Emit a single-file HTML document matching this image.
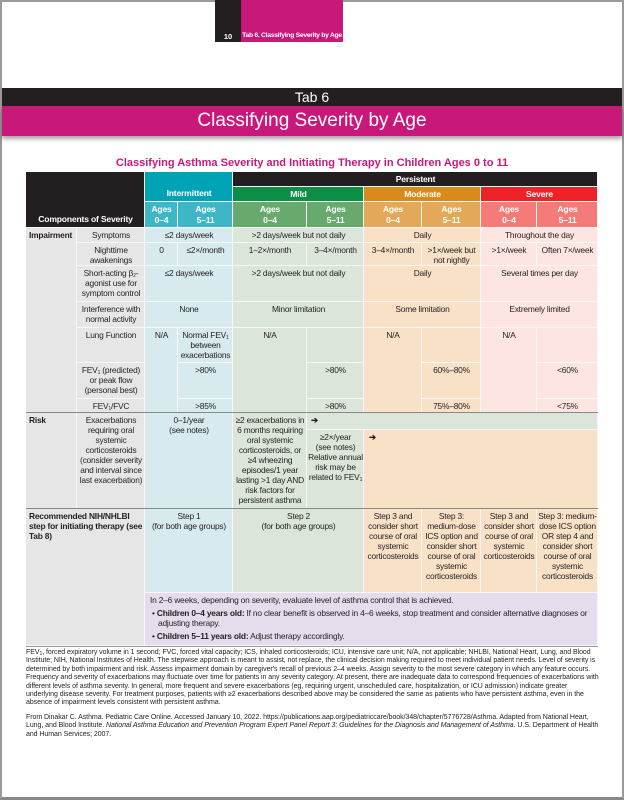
<!DOCTYPE html>
<html><head><meta charset="utf-8"><style>
*{margin:0;padding:0}
body{width:624px;height:800px;position:relative;background:#fff;overflow:hidden;font-family:"Liberation Sans Narrow","Liberation Sans",sans-serif;color:#231f20}
.a{position:absolute;box-sizing:border-box}
.c{position:absolute;box-sizing:border-box;text-align:center;font-size:8.4px;letter-spacing:-0.2px;line-height:10px;padding:2px 1px 0;box-shadow:inset -1px -1px 0 #f7f7f7}
.b{background:#d7eaee}.g{background:#dce5d9}.o{background:#f8e1c6}.p{background:#fde5e2}.gr{background:#e6e6e7}.pu{background:#e5ddec}
.h{color:#fff;font-weight:bold;font-size:8.6px;line-height:11px;padding-top:2px}
.fn{position:absolute;left:26px;width:574px;font-size:7px;letter-spacing:-0.05px;line-height:8.4px;color:#231f20}
sub{font-size:5px;vertical-align:-1px;line-height:0}
</style></head><body>
<div class="a" style="left:0;top:0;width:624px;height:800px;border:2px solid #9a9a9a;border-bottom:3px solid #888"></div>
<div class="a" style="left:215px;top:0;width:26px;height:42px;background:#231f20;color:#fff;font:bold 7.5px 'Liberation Sans',sans-serif;text-align:center;padding-top:32px">10</div>
<div class="a" style="left:241px;top:0;width:102px;height:42px;background:#c8197a;color:#fff;font:bold 6.8px 'Liberation Sans',sans-serif;letter-spacing:-0.3px;white-space:nowrap;text-align:center;padding-top:32px">Tab 6. Classifying Severity by Age</div>
<div class="a" style="left:2px;top:88px;width:620px;height:18px;background:#231f20;color:#fff;font:14px 'Liberation Sans',sans-serif;text-align:center;line-height:18px">Tab 6</div>
<div class="a" style="left:2px;top:106px;width:620px;height:30px;background:#c8197a;color:#fff;font:19px 'Liberation Sans',sans-serif;text-align:center;line-height:30px;box-shadow:0 3px 4px rgba(0,0,0,.35)">Classifying Severity by Age</div>
<div class="a" style="left:0;top:157px;width:624px;text-align:center;color:#c8197a;font:bold 11px 'Liberation Sans',sans-serif">Classifying Asthma Severity and Initiating Therapy in Children Ages 0 to 11</div>

<!-- header -->
<div class="c h" style="left:26px;top:172px;width:119px;height:56px;background:#231f20;padding-top:42px">Components of Severity</div>
<div class="c h" style="left:233px;top:172px;width:365px;height:15px;background:#231f20">Persistent</div>
<div class="c h" style="left:145px;top:172px;width:88px;height:30px;background:#00a3b4;padding-top:16px">Intermittent</div>
<div class="c h" style="left:233px;top:187px;width:131px;height:15px;background:#0b8f46">Mild</div>
<div class="c h" style="left:364px;top:187px;width:117px;height:15px;background:#d88b1a">Moderate</div>
<div class="c h" style="left:481px;top:187px;width:117px;height:15px;background:#ed2227">Severe</div>
<div class="c h" style="left:145px;top:202px;width:33px;height:26px;background:#3db6c6">Ages<br>0–4</div>
<div class="c h" style="left:178px;top:202px;width:55px;height:26px;background:#3db6c6">Ages<br>5–11</div>
<div class="c h" style="left:233px;top:202px;width:74px;height:26px;background:#68a96d">Ages<br>0–4</div>
<div class="c h" style="left:307px;top:202px;width:57px;height:26px;background:#68a96d">Ages<br>5–11</div>
<div class="c h" style="left:364px;top:202px;width:58px;height:26px;background:#e3a858">Ages<br>0–4</div>
<div class="c h" style="left:422px;top:202px;width:59px;height:26px;background:#e3a858">Ages<br>5–11</div>
<div class="c h" style="left:481px;top:202px;width:56px;height:26px;background:#f47b78">Ages<br>0–4</div>
<div class="c h" style="left:537px;top:202px;width:61px;height:26px;background:#f47b78">Ages<br>5–11</div>

<!-- impairment -->
<div class="c gr" style="left:26px;top:228px;width:51px;height:185px;text-align:left;font-weight:bold;padding-left:3px">Impairment</div>
<div class="c gr" style="left:77px;top:228px;width:68px;height:15px">Symptoms</div>
<div class="c b" style="left:145px;top:228px;width:88px;height:15px">≤2 days/week</div>
<div class="c g" style="left:233px;top:228px;width:131px;height:15px">&gt;2 days/week but not daily</div>
<div class="c o" style="left:364px;top:228px;width:117px;height:15px">Daily</div>
<div class="c p" style="left:481px;top:228px;width:117px;height:15px">Throughout the day</div>

<div class="c gr" style="left:77px;top:243px;width:68px;height:23px">Nighttime<br>awakenings</div>
<div class="c b" style="left:145px;top:243px;width:33px;height:23px">0</div>
<div class="c b" style="left:178px;top:243px;width:55px;height:23px">≤2×/month</div>
<div class="c g" style="left:233px;top:243px;width:74px;height:23px">1–2×/month</div>
<div class="c g" style="left:307px;top:243px;width:57px;height:23px">3–4×/month</div>
<div class="c o" style="left:364px;top:243px;width:58px;height:23px">3–4×/month</div>
<div class="c o" style="left:422px;top:243px;width:59px;height:23px">&gt;1×/week but not nightly</div>
<div class="c p" style="left:481px;top:243px;width:56px;height:23px">&gt;1×/week</div>
<div class="c p" style="left:537px;top:243px;width:61px;height:23px">Often 7×/week</div>

<div class="c gr" style="left:77px;top:266px;width:68px;height:36px">Short-acting β<sub>2</sub>-agonist use for symptom control</div>
<div class="c b" style="left:145px;top:266px;width:88px;height:36px">≤2 days/week</div>
<div class="c g" style="left:233px;top:266px;width:131px;height:36px">&gt;2 days/week but not daily</div>
<div class="c o" style="left:364px;top:266px;width:117px;height:36px">Daily</div>
<div class="c p" style="left:481px;top:266px;width:117px;height:36px">Several times per day</div>

<div class="c gr" style="left:77px;top:302px;width:68px;height:26px">Interference with normal activity</div>
<div class="c b" style="left:145px;top:302px;width:88px;height:26px">None</div>
<div class="c g" style="left:233px;top:302px;width:131px;height:26px">Minor limitation</div>
<div class="c o" style="left:364px;top:302px;width:117px;height:26px">Some limitation</div>
<div class="c p" style="left:481px;top:302px;width:117px;height:26px">Extremely limited</div>

<div class="c gr" style="left:77px;top:328px;width:68px;height:35px">Lung Function</div>
<div class="c gr" style="left:77px;top:363px;width:68px;height:36px">FEV<sub>1</sub> (predicted) or peak flow (personal best)</div>
<div class="c gr" style="left:77px;top:399px;width:68px;height:14px">FEV<sub>1</sub>/FVC</div>
<div class="c b" style="left:145px;top:328px;width:33px;height:85px">N/A</div>
<div class="c b" style="left:178px;top:328px;width:55px;height:35px">Normal FEV<sub>1</sub> between exacerbations</div>
<div class="c b" style="left:178px;top:363px;width:55px;height:36px">&gt;80%</div>
<div class="c b" style="left:178px;top:399px;width:55px;height:14px">&gt;85%</div>
<div class="c g" style="left:233px;top:328px;width:74px;height:85px">N/A</div>
<div class="c g" style="left:307px;top:328px;width:57px;height:35px"></div>
<div class="c g" style="left:307px;top:363px;width:57px;height:36px">&gt;80%</div>
<div class="c g" style="left:307px;top:399px;width:57px;height:14px">&gt;80%</div>
<div class="c o" style="left:364px;top:328px;width:58px;height:85px">N/A</div>
<div class="c o" style="left:422px;top:328px;width:59px;height:35px"></div>
<div class="c o" style="left:422px;top:363px;width:59px;height:36px">60%–80%</div>
<div class="c o" style="left:422px;top:399px;width:59px;height:14px">75%–80%</div>
<div class="c p" style="left:481px;top:328px;width:56px;height:85px">N/A</div>
<div class="c p" style="left:537px;top:328px;width:61px;height:35px"></div>
<div class="c p" style="left:537px;top:363px;width:61px;height:36px">&lt;60%</div>
<div class="c p" style="left:537px;top:399px;width:61px;height:14px">&lt;75%</div>

<!-- risk -->
<div class="a" style="left:26px;top:412px;width:572px;height:1px;background:#888"></div>
<div class="c gr" style="left:26px;top:413px;width:51px;height:96px;text-align:left;font-weight:bold;padding-left:3px">Risk</div>
<div class="c gr" style="left:77px;top:413px;width:68px;height:96px">Exacerbations requiring oral systemic corticosteroids (consider severity and interval since last exacerbation)</div>
<div class="c b" style="left:145px;top:413px;width:88px;height:96px">0–1/year<br>(see notes)</div>
<div class="c g" style="left:233px;top:413px;width:74px;height:96px">≥2 exacerbations in 6 months requiring oral systemic corticosteroids, or ≥4 wheezing episodes/1 year lasting &gt;1 day AND risk factors for persistent asthma</div>
<div class="c g" style="left:307px;top:413px;width:291px;height:17px;text-align:left;padding-left:4px;font-weight:bold">➔</div>
<div class="c g" style="left:307px;top:430px;width:57px;height:79px">≥2×/year<br>(see notes)<br>Relative annual risk may be related to FEV<sub>1</sub></div>
<div class="c o" style="left:364px;top:430px;width:234px;height:79px;text-align:left;padding-left:5px;font-weight:bold">➔</div>

<!-- recommended -->
<div class="a" style="left:26px;top:508px;width:572px;height:1px;background:#888"></div>
<div class="c gr" style="left:26px;top:509px;width:119px;height:137px;text-align:left;font-weight:bold;padding-left:3px">Recommended NIH/NHLBI step for initiating therapy (see Tab 8)</div>
<div class="c b" style="left:145px;top:509px;width:88px;height:84px">Step 1<br>(for both age groups)</div>
<div class="c g" style="left:233px;top:509px;width:131px;height:84px">Step 2<br>(for both age groups)</div>
<div class="c o" style="left:364px;top:509px;width:58px;height:84px">Step 3 and consider short course of oral systemic corticosteroids</div>
<div class="c o" style="left:422px;top:509px;width:59px;height:84px">Step 3: medium-dose ICS option and consider short course of oral systemic corticosteroids</div>
<div class="c o" style="left:481px;top:509px;width:56px;height:84px">Step 3 and consider short course of oral systemic corticosteroids</div>
<div class="c o" style="left:537px;top:509px;width:61px;height:84px">Step 3: medium-dose ICS option OR step 4 and consider short course of oral systemic corticosteroids</div>
<div class="c pu" style="left:145px;top:593px;width:453px;height:53px;text-align:left;padding:2px 5px;line-height:10.5px">In 2–6 weeks, depending on severity, evaluate level of asthma control that is achieved.<div style="margin-top:2px;padding-left:8px;text-indent:-6px">• <b>Children 0–4 years old:</b> If no clear benefit is observed in 4–6 weeks, stop treatment and consider alternative diagnoses or adjusting therapy.</div><div style="margin-top:2px;padding-left:2px">• <b>Children 5–11 years old:</b> Adjust therapy accordingly.</div></div>
<div class="a" style="left:26px;top:646px;width:572px;height:1px;background:#999"></div>

<div class="fn" style="top:649px">FEV<sub>1</sub>, forced expiratory volume in 1 second; FVC, forced vital capacity; ICS, inhaled corticosteroids; ICU, intensive care unit; N/A, not applicable; NHLBI, National Heart, Lung, and Blood Institute; NIH, National Institutes of Health. The stepwise approach is meant to assist, not replace, the clinical decision making required to meet individual patient needs. Level of severity is determined by both impairment and risk. Assess impairment domain by caregiver's recall of previous 2–4 weeks. Assign severity to the most severe category in which any feature occurs. Frequency and severity of exacerbations may fluctuate over time for patients in any severity category. At present, there are inadequate data to correspond frequencies of exacerbations with different levels of asthma severity. In general, more frequent and severe exacerbations (eg, requiring urgent, unscheduled care, hospitalization, or ICU admission) indicate greater underlying disease severity. For treatment purposes, patients with ≥2 exacerbations described above may be considered the same as patients who have persistent asthma, even in the absence of impairment levels consistent with persistent asthma.</div>
<div class="fn" style="top:714px">From Dinakar C. Asthma. Pediatric Care Online. Accessed January 10, 2022. https://publications.aap.org/pediatriccare/book/348/chapter/5776728/Asthma. Adapted from National Heart, Lung, and Blood Institute. <i>National Asthma Education and Prevention Program Expert Panel Report 3: Guidelines for the Diagnosis and Management of Asthma.</i> U.S. Department of Health and Human Services; 2007.</div>
</body></html>
